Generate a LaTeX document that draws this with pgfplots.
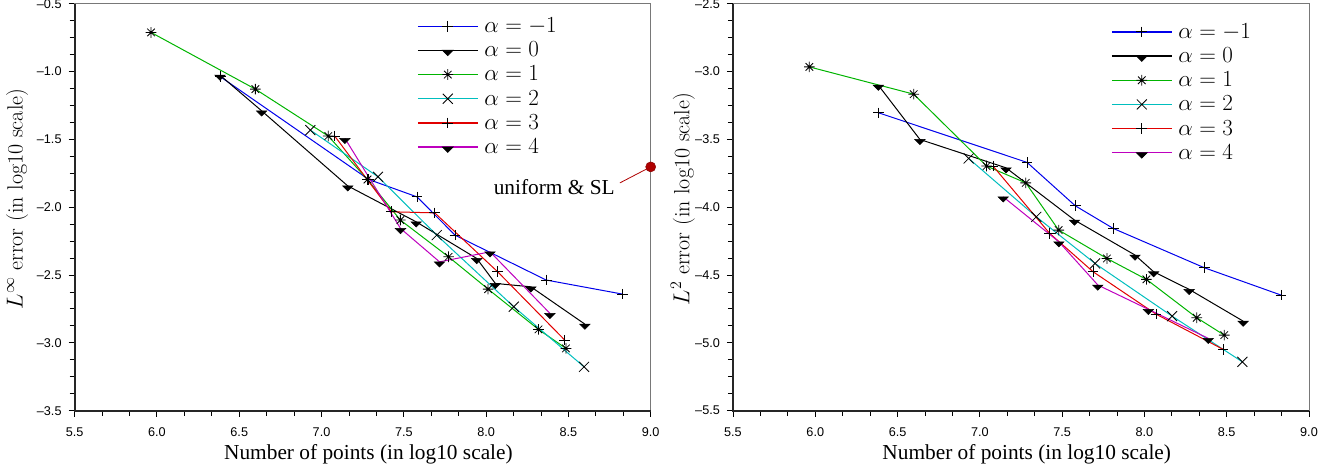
\documentclass[border=0pt]{standalone}
\usepackage{fontspec}
\usepackage{pgfplots}
\pgfplotsset{compat=1.18}
\newfontfamily\helv{Liberation Sans}
\newfontfamily\tnr{Liberation Serif}
\definecolor{cblue}{RGB}{0,0,235}
\definecolor{cgreen}{RGB}{0,180,0}
\definecolor{ccyan}{RGB}{0,190,190}
\definecolor{cred}{RGB}{225,0,0}
\definecolor{cmag}{RGB}{190,0,190}
\definecolor{dred}{RGB}{175,0,0}
\definecolor{axgray}{RGB}{120,120,120}

\pgfdeclareplotmark{dtri}{%
  \pgfpathmoveto{\pgfqpoint{-\pgfplotmarksize}{0pt}}%
  \pgfpathlineto{\pgfqpoint{\pgfplotmarksize}{0pt}}%
  \pgfpathlineto{\pgfqpoint{0pt}{-1.0\pgfplotmarksize}}%
  \pgfpathclose\pgfusepathqfillstroke}
\pgfdeclareplotmark{ast8}{%
  \pgfpathmoveto{\pgfqpoint{0pt}{-\pgfplotmarksize}}%
  \pgfpathlineto{\pgfqpoint{0pt}{\pgfplotmarksize}}%
  \pgfpathmoveto{\pgfqpoint{-\pgfplotmarksize}{0pt}}%
  \pgfpathlineto{\pgfqpoint{\pgfplotmarksize}{0pt}}%
  \pgfpathmoveto{\pgfqpoint{-0.707\pgfplotmarksize}{-0.707\pgfplotmarksize}}%
  \pgfpathlineto{\pgfqpoint{0.707\pgfplotmarksize}{0.707\pgfplotmarksize}}%
  \pgfpathmoveto{\pgfqpoint{-0.707\pgfplotmarksize}{0.707\pgfplotmarksize}}%
  \pgfpathlineto{\pgfqpoint{0.707\pgfplotmarksize}{-0.707\pgfplotmarksize}}%
  \pgfusepathqstroke}

\newcommand{\legline}[1]{\draw[#1, line width=1pt] (0pt,0pt) -- (45pt,0pt);}
\newcommand{\legmark}[2]{%
  \begin{scope}[shift={(22.5pt,0pt)}]%
    \pgfsetlinewidth{0.6pt}\pgfsetstrokecolor{black}\pgfsetfillcolor{black}%
    \pgfplotmarksize=#2\relax\pgfuseplotmark{#1}%
  \end{scope}}

\pgfplotsset{
  myaxis/.style={
    scale only axis, width=432pt, height=305.25pt,
    xmin=5.5, xmax=9,
    xtick={5.5,6,6.5,7,7.5,8,8.5,9},
    xticklabels={5.5,6.0,6.5,7.0,7.5,8.0,8.5,9.0},
    minor x tick num=2, minor y tick num=3,
    tick align=outside, tick pos=left,
    major tick length=4.5pt, minor tick length=3.75pt,
    tick style={black, line width=0.7pt},
    axis line style={axgray, line width=0.6pt},
    ticklabel style={font=\helv\fontsize{9.5}{10}\selectfont},
    xticklabel style={yshift=-5pt},
    yticklabel style={xshift=-1.8pt},
    xlabel style={at={(axis description cs:0.51,-0.108)}, anchor=center, font=\tnr\fontsize{16}{18}\selectfont},
    ylabel style={anchor=center, font=\fontsize{16.5}{18}\selectfont},
    xlabel={Number of points (in log10 scale)},
    clip=false,
    legend cell align=left,
    legend style={draw=none, fill=none, anchor=north west, inner sep=0pt, row sep=5.5pt, column sep=4.5pt,
      nodes={inner sep=0pt}, font=\fontsize{16.5}{18}\selectfont},
  },
  sA/.style={draw=cblue, color=cblue, line width=0.75pt, mark=+, mark size=4pt, mark options={draw=black, solid, line width=0.6pt},
    legend image code/.code={\legline{cblue}\legmark{+}{4pt}}},
  sB/.style={draw=black, line width=0.75pt, mark=dtri, mark size=3.9pt, mark options={draw=black, fill=black, solid, line width=0.4pt},
    legend image code/.code={\legline{black}\legmark{dtri}{3.9pt}}},
  sC/.style={draw=cgreen, color=cgreen, line width=0.75pt, mark=ast8, mark size=4pt, mark options={draw=black, solid, line width=0.6pt},
    legend image code/.code={\legline{cgreen}\legmark{ast8}{4pt}}},
  sD/.style={draw=ccyan, color=ccyan, line width=0.75pt, mark=x, mark size=5.3pt, mark options={draw=black, solid, line width=0.6pt},
    legend image code/.code={\legline{ccyan}\legmark{x}{5.3pt}}},
  sE/.style={draw=cred, color=cred, line width=0.75pt, mark=+, mark size=4pt, mark options={draw=black, solid, line width=0.6pt},
    legend image code/.code={\legline{cred}\legmark{+}{4pt}}},
  sF/.style={draw=cmag, color=cmag, line width=0.75pt, mark=dtri, mark size=3.9pt, mark options={draw=black, fill=black, solid, line width=0.4pt},
    legend image code/.code={\legline{cmag}\legmark{dtri}{3.9pt}}},
}

\begin{document}
\begin{tikzpicture}
% ---------------- left: L infinity ----------------
\begin{axis}[myaxis, at={(0,0)}, anchor=south west,
  ymin=-3.5, ymax=-0.5,
  ytick={-3.5,-3,-2.5,-2,-1.5,-1,-0.5},
  yticklabels={–3.5,–3.0,–2.5,–2.0,–1.5,–1.0,–0.5},
  ylabel={$L^\infty$ error (in log10 scale)},
  ylabel style={at={(axis description cs:-0.100,0.52)}},
  legend style={at={(axis description cs:0.594,0.966)}},
]
\addplot[sA] coordinates {(6.386,-1.039) (7.287,-1.796) (7.580,-1.924) (7.811,-2.206) (8.365,-2.537) (8.830,-2.641)};
\addplot[sB] coordinates {(6.383,-1.027) (6.636,-1.290) (7.159,-1.843) (7.575,-2.108) (7.943,-2.378) (8.056,-2.562) (8.272,-2.587) (8.600,-2.862)};
\addplot[sC] coordinates {(5.964,-0.712) (6.598,-1.130) (7.041,-1.476) (7.279,-1.796) (7.479,-2.095) (7.772,-2.366) (8.012,-2.604) (8.318,-2.901) (8.485,-3.041)};
\addplot[sD] coordinates {(6.932,-1.432) (7.343,-1.776) (7.700,-2.206) (8.168,-2.734) (8.595,-3.177)};
\addplot[sE] coordinates {(7.080,-1.476) (7.424,-2.034) (7.688,-2.042) (8.070,-2.476) (8.478,-2.980)};
\addplot[sF] coordinates {(7.142,-1.493) (7.480,-2.157) (7.717,-2.403) (8.024,-2.329) (8.388,-2.783)};
\legend{$\alpha=-1$,$\alpha=0$,$\alpha=1$,$\alpha=2$,$\alpha=3$,$\alpha=4$}
\draw[black!85, line width=1.4pt] (rel axis cs:0,1) -- (rel axis cs:0,0) -- (rel axis cs:1,0);
\addplot[dred, line width=0.6pt, forget plot] coordinates {(8.813,-1.821) (9,-1.703)};
\addplot[only marks, mark=*, mark size=3.75pt, mark options={draw=dred!80!black, fill=dred}, forget plot] coordinates {(9,-1.703)};
\node[anchor=base east, inner sep=0pt, font=\tnr\fontsize{16}{18}\selectfont] at (axis cs:8.783,-1.906) {uniform \& SL};
\end{axis}
% ---------------- right: L2 ----------------
\begin{axis}[myaxis, at={(493.7pt,0)}, anchor=south west,
  ymin=-5.5, ymax=-2.5,
  ytick={-5.5,-5,-4.5,-4,-3.5,-3,-2.5},
  yticklabels={–5.5,–5.0,–4.5,–4.0,–3.5,–3.0,–2.5},
  ylabel={$L^2$ error (in log10 scale)},
  ylabel style={at={(axis description cs:-0.087,0.52)}},
  legend style={at={(axis description cs:0.656,0.952)}},
]
\addplot[sA] coordinates {(6.386,-3.305) (7.287,-3.670) (7.580,-3.990) (7.811,-4.157) (8.365,-4.447) (8.830,-4.648)};
\addplot[sB] coordinates {(6.383,-3.101) (6.636,-3.501) (7.159,-3.710) (7.575,-4.095) (7.943,-4.353) (8.056,-4.476) (8.272,-4.606) (8.600,-4.840)};
\addplot[sC] coordinates {(5.964,-2.966) (6.598,-3.167) (7.041,-3.697) (7.279,-3.821) (7.479,-4.169) (7.772,-4.378) (8.012,-4.532) (8.318,-4.815) (8.485,-4.943)};
\addplot[sD] coordinates {(6.932,-3.641) (7.343,-4.071) (7.700,-4.415) (8.168,-4.803) (8.595,-5.140)};
\addplot[sE] coordinates {(7.080,-3.697) (7.424,-4.193) (7.688,-4.476) (8.070,-4.788) (8.478,-5.048)};
\addplot[sF] coordinates {(7.142,-3.924) (7.480,-4.255) (7.717,-4.574) (8.024,-4.753) (8.388,-4.967)};
\legend{$\alpha=-1$,$\alpha=0$,$\alpha=1$,$\alpha=2$,$\alpha=3$,$\alpha=4$}
\draw[black!85, line width=1.4pt] (rel axis cs:0,1) -- (rel axis cs:0,0) -- (rel axis cs:1,0);
\end{axis}
\pgfresetboundingbox
\path[use as bounding box] (-56.0pt,-44.5pt) rectangle (934.7pt,308.0pt);
\end{tikzpicture}
\end{document}
